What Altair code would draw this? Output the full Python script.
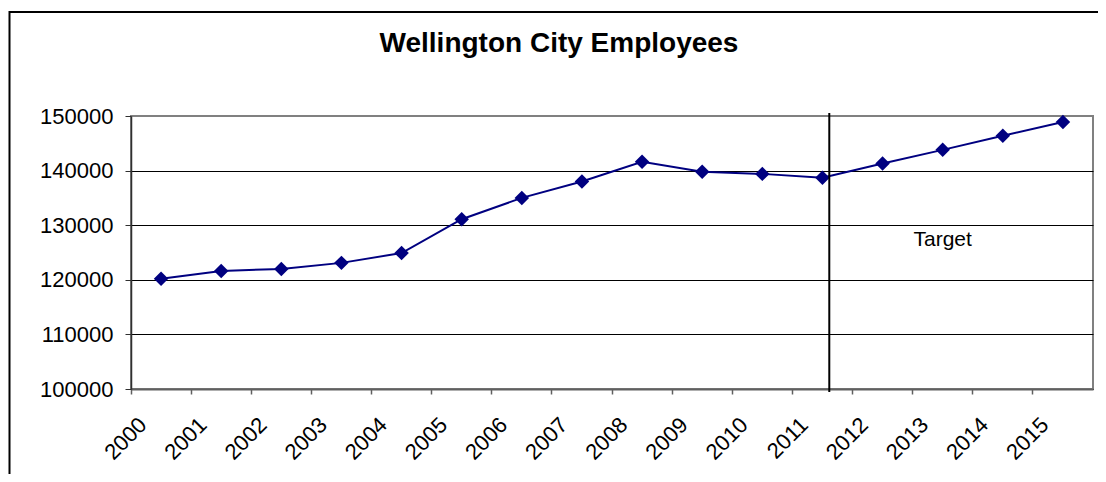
import altair as alt
import pandas as pd

# ---- data ----
YEARS = [str(y) for y in range(2000, 2016)]
EMPLOYEES = [120200, 121600, 122000, 123100, 124900, 131100, 135000, 138000,
             141600, 139800, 139400, 138700, 141300, 143800, 146400, 148900]
Y_TICKS = [100000, 110000, 120000, 130000, 140000, 150000]
TITLE = "Wellington City Employees"
TARGET_LABEL = "Target"
TARGET_LABEL_YEAR = "2013"
TARGET_LABEL_VALUE = 127300
TARGET_LINE_YEAR = "2011"

# ---- styling / layout ----
W, H = 962, 273
FONT = "Liberation Sans"
NAVY = "#000080"

df = pd.DataFrame({"year": YEARS, "employees": EMPLOYEES})

x_scale = alt.Scale(type="band", domain=YEARS, paddingInner=0, paddingOuter=0)
x_enc = alt.X(
    "year:O",
    scale=x_scale,
    title=None,
    axis=alt.Axis(
        bandPosition=0,
        labelAngle=-45,
        labelAlign="right",
        labelBaseline="middle",
        labelOffset=-18,
        labelPadding=27,
        labelFontSize=22,
        labelFont=FONT,
        labelColor="black",
        tickSize=5,
        tickColor="#606060",
        tickWidth=1.5,
        domainColor="#606060",
        domainWidth=2,
        grid=False,
    ),
)
y_scale = alt.Scale(domain=[100000, 150000], nice=False, zero=False)
y_enc = alt.Y(
    "employees:Q",
    scale=y_scale,
    title=None,
    axis=alt.Axis(
        values=Y_TICKS,
        format="d",
        labelFontSize=22,
        labelFont=FONT,
        labelColor="black",
        labelPadding=12,
        tickSize=6,
        tickColor="#303030",
        domainColor="#303030",
        domainWidth=1.5,
        grid=True,
        gridColor={"condition": {"test": "datum.value === 150000", "value": "#808080"}, "value": "#000000"},
        gridWidth=1,
    ),
)

border = alt.Chart(pd.DataFrame({"a": [0]})).mark_rect(
    fill="white", fillOpacity=0, stroke="black", strokeWidth=2
).encode(
    x=alt.value(-121.5), y=alt.value(-104), x2=alt.value(1500), y2=alt.value(800)
)

line = alt.Chart(df).mark_line(color=NAVY, strokeWidth=2).encode(x=x_enc, y=y_enc)
points = alt.Chart(df).mark_point(
    shape="diamond", filled=True, size=210, color=NAVY, opacity=1
).encode(x=x_enc, y=y_enc)

target_rule = alt.Chart(pd.DataFrame({"year": [TARGET_LINE_YEAR]})).mark_rule(
    color="black", strokeWidth=2
).encode(
    x=alt.X("year:O", bandPosition=0.614),
    y=alt.value(-3),
    y2=alt.value(H + 3),
)

target_text = alt.Chart(
    pd.DataFrame({"year": [TARGET_LABEL_YEAR], "employees": [TARGET_LABEL_VALUE], "label": [TARGET_LABEL]})
).mark_text(
    fontSize=21, font=FONT, color="black", align="center", baseline="middle"
).encode(x="year:O", y="employees:Q", text="label:N")

title_text = alt.Chart(pd.DataFrame({"label": [TITLE]})).mark_text(
    fontSize=28, fontWeight="bold", font=FONT, color="black", align="center", baseline="alphabetic"
).encode(x=alt.value(428), y=alt.value(-64), text="label:N")

chart = alt.layer(
    border, line, points, target_rule, target_text, title_text
).properties(
    width=W,
    height=H,
    autosize=alt.AutoSizeParams(type="none"),
    padding={"left": 123, "top": 108, "right": 5, "bottom": 85},
    background="white",
).configure_view(
    stroke="#808080", strokeWidth=2
)

chart.save("out.html", embed_options={"renderer": "svg", "actions": False})
